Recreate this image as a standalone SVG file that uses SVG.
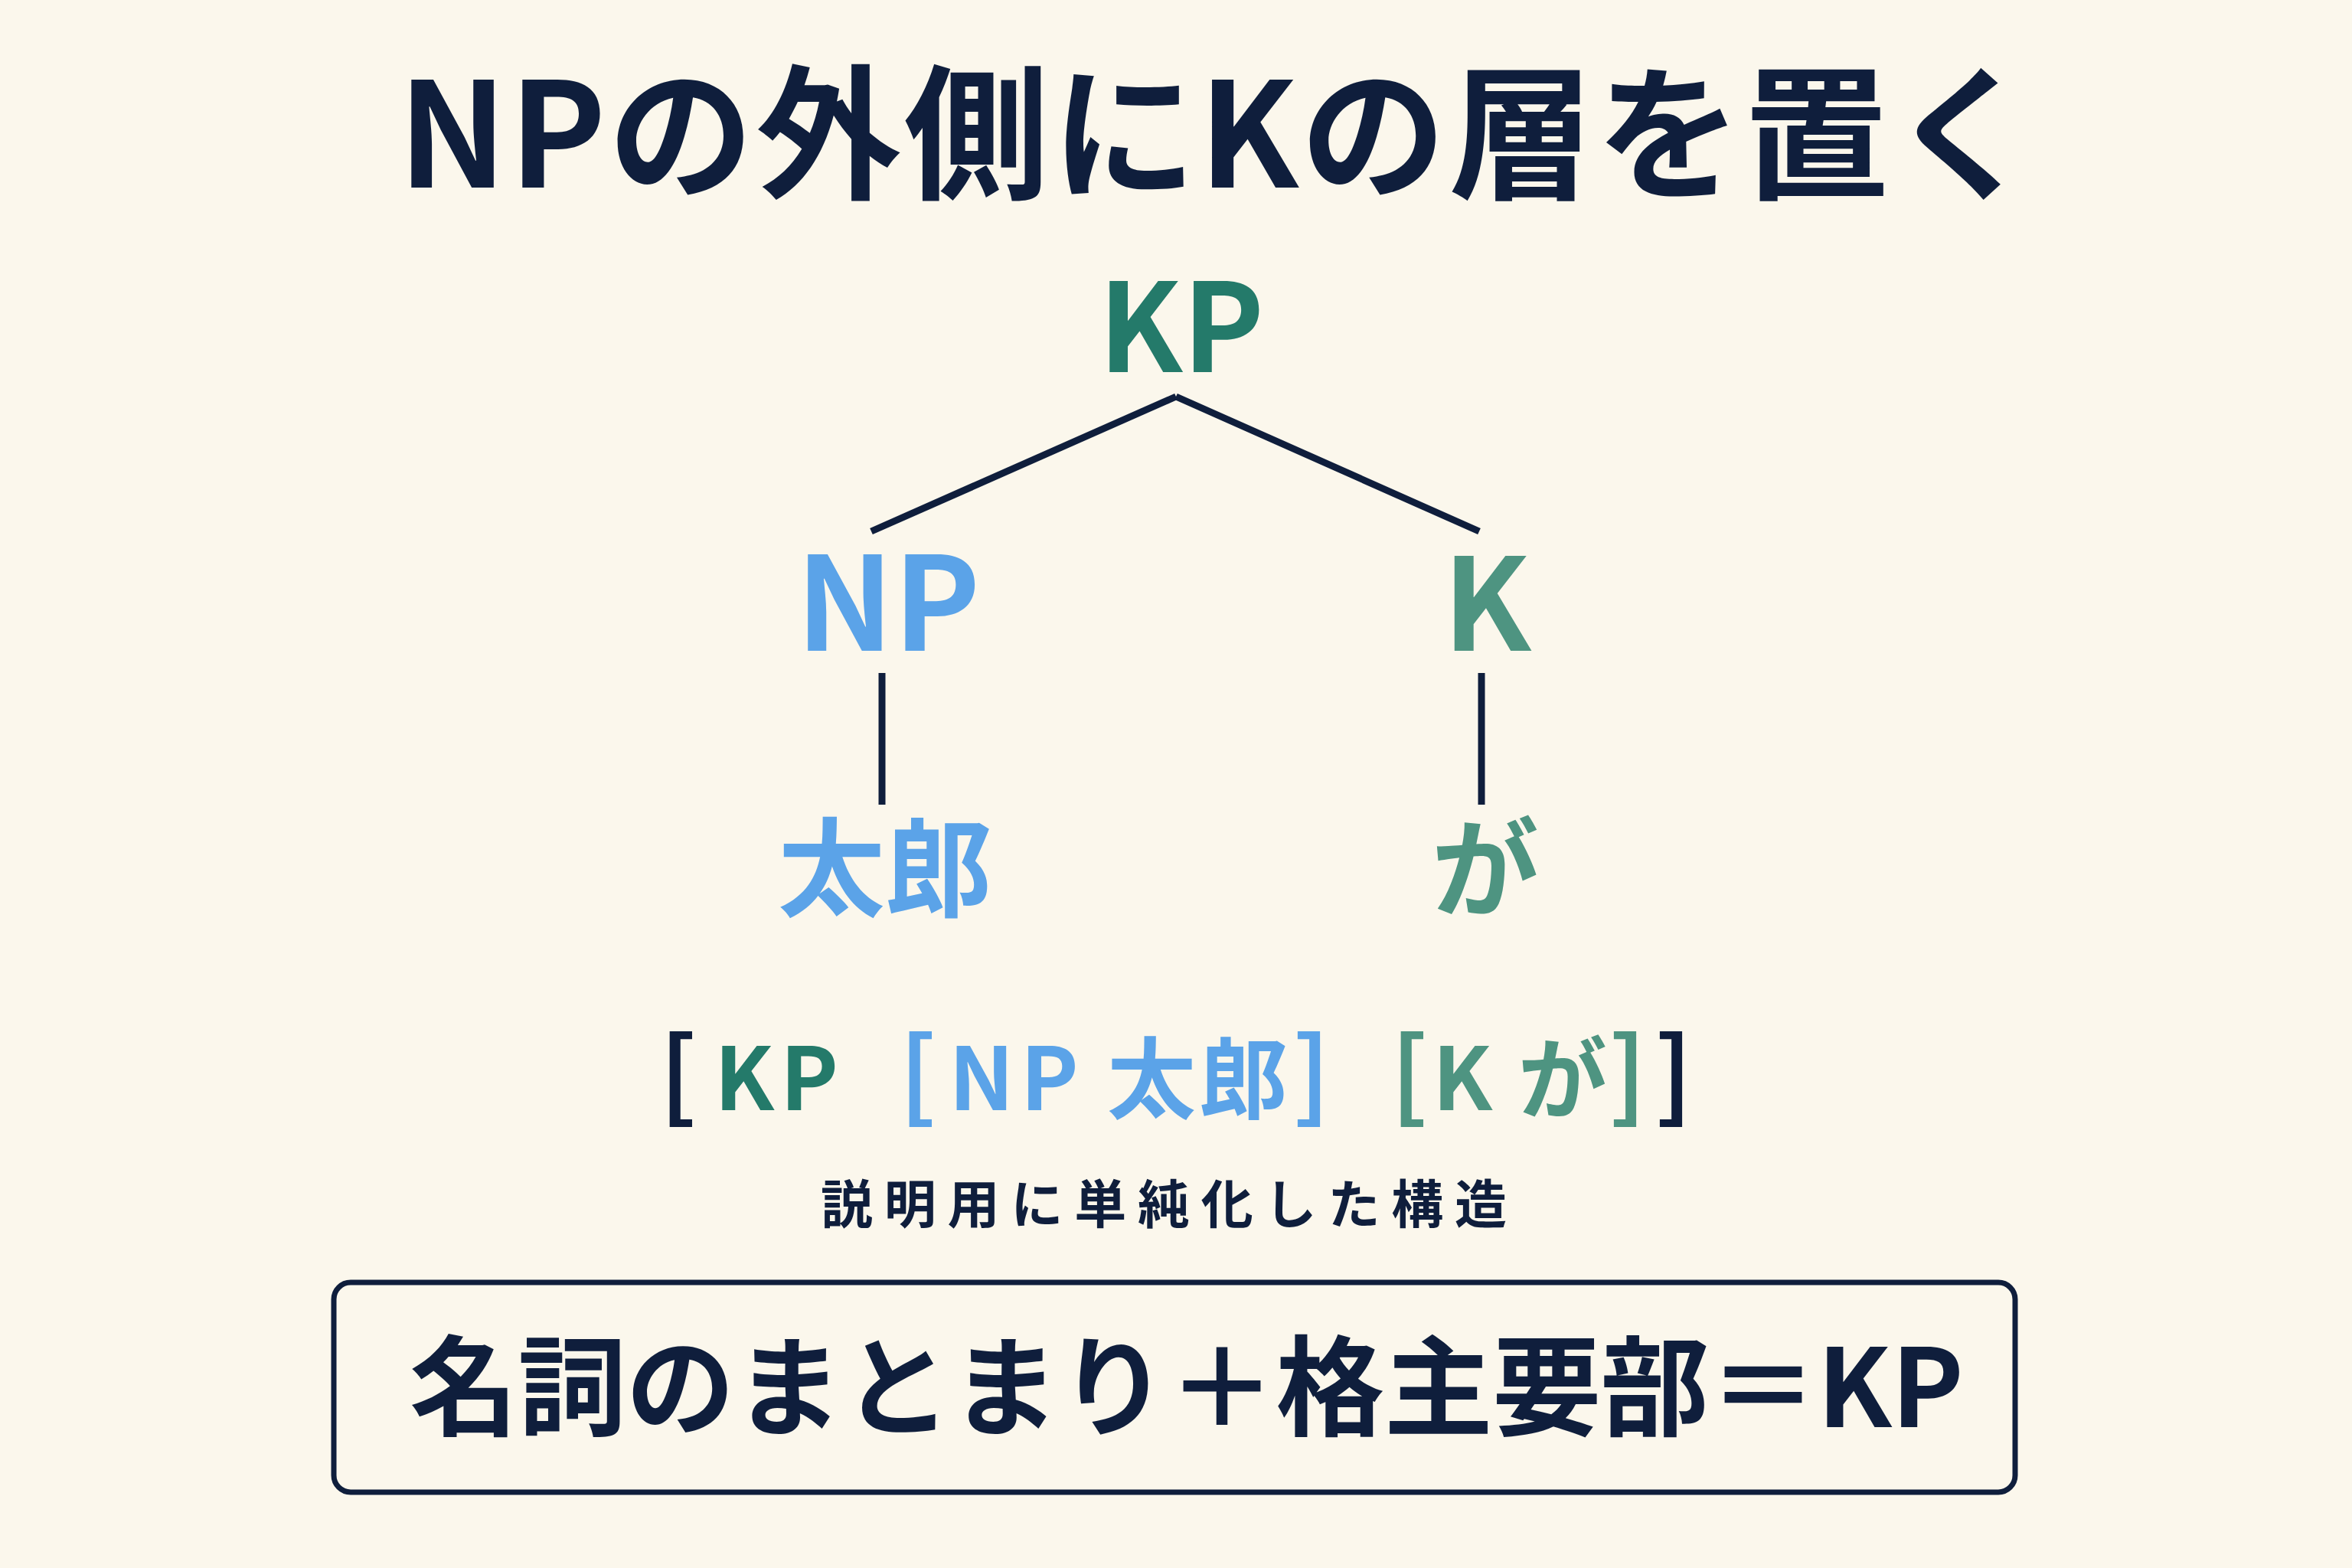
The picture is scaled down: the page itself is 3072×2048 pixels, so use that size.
<svg xmlns="http://www.w3.org/2000/svg" width="3072" height="2048" viewBox="0 0 3072 2048">
  <style>
    text { font-family: "Noto Sans CJK JP", "Noto Sans", sans-serif; font-weight: 700; }
    .navy { fill: #0F1E3C; }
    .teal { fill: #247A6A; }
    .blue { fill: #5BA3E8; }
    .kteal { fill: #4E9481; }
    .edge { stroke: #0F1E3C; stroke-width: 9; stroke-linecap: butt; fill: none; }
    .br { font-size: 128px; font-weight: 700; }
  </style>
  <rect x="0" y="0" width="3072" height="2048" fill="#FBF7EC"/>

  <g id="title">
    <text class="navy" x="520" y="245" font-size="190" text-anchor="start" textLength="2140" lengthAdjust="spacing">NPの外側にKの層を置く</text>
  </g>

  <g id="connectors">
    <line class="edge" x1="1536" y1="518" x2="1138" y2="694"/>
    <line class="edge" x1="1536" y1="518" x2="1932" y2="694"/>
    <line class="edge" x1="1152" y1="879" x2="1152" y2="1051"/>
    <line class="edge" x1="1935" y1="879" x2="1935" y2="1051"/>
  </g>

  <g id="node-KP">
    <text class="teal" x="1543" y="486" font-size="160" text-anchor="middle">KP</text>
  </g>
  <g id="node-NP">
    <text class="blue" x="1160" y="850" font-size="170" text-anchor="middle">NP</text>
  </g>
  <g id="node-K">
    <text class="kteal" x="1942" y="850" font-size="168" text-anchor="middle">K</text>
  </g>
  <g id="leaf-taro">
    <text class="blue" x="1156" y="1186" font-size="140" text-anchor="middle">太郎</text>
  </g>
  <g id="leaf-ga">
    <text class="kteal" x="1940" y="1186" font-size="140" text-anchor="middle">が</text>
  </g>

  <g id="bracket-notation">
    <text class="navy br" x="886" y="1450" text-anchor="middle">[</text>
    <text class="teal" x="1018" y="1450" font-size="114" text-anchor="middle" letter-spacing="8">KP</text>
    <text class="blue br" x="1199" y="1450" text-anchor="middle">[</text>
    <text class="blue" x="1328" y="1450" font-size="114" text-anchor="middle" letter-spacing="8">NP</text>
    <text class="blue" x="1566" y="1452" font-size="116" text-anchor="middle" letter-spacing="4">太郎</text>
    <text class="blue br" x="1713" y="1450" text-anchor="middle">]</text>
    <text class="kteal br" x="1841" y="1450" text-anchor="middle">[</text>
    <text class="kteal" x="1910" y="1450" font-size="114" text-anchor="middle">K</text>
    <text class="kteal" x="2041" y="1452" font-size="116" text-anchor="middle">が</text>
    <text class="kteal br" x="2126" y="1450" text-anchor="middle">]</text>
    <text class="navy br" x="2186" y="1450" text-anchor="middle">]</text>
  </g>

  <g id="caption">
    <text class="navy" x="1520" y="1598" font-size="68" font-weight="500" text-anchor="middle" textLength="896" lengthAdjust="spacing">説明用に単純化した構造</text>
  </g>

  <g id="summary-box">
    <rect x="436" y="1675" width="2196" height="274" rx="22" ry="22" fill="#FBF7EC" stroke="#0F1E3C" stroke-width="7"/>
    <text class="navy" x="1550" y="1864" font-size="142" text-anchor="middle" textLength="2030" lengthAdjust="spacing">名詞のまとまり＋格主要部＝KP</text>
  </g>
</svg>
